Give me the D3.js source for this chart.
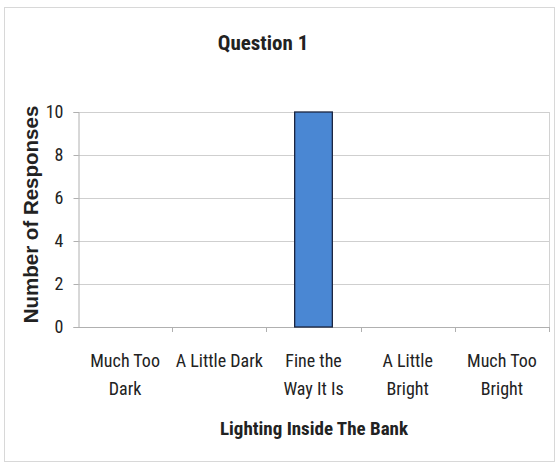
<!DOCTYPE html>
<html>
<head>
<meta charset="utf-8">
<script src="https://cdn.jsdelivr.net/npm/d3@7"></script>
<style>
  html, body { margin: 0; padding: 0; background: #fff; }
  svg { display: block; }
  .narrow { font-family: "Liberation Sans Narrow", "Arial Narrow", "Roboto Condensed", "Liberation Sans", sans-serif; }
</style>
</head>
<body>
<svg id="chart" width="558" height="464"></svg>
<script>
// Survey responses for lighting inside the bank
const categories = [["Much Too", "Dark"], ["A Little Dark"], ["Fine the", "Way It Is"], ["A Little", "Bright"], ["Much Too", "Bright"]];
const responses = [0, 0, 10, 0, 0];
const yTicks = [0, 2, 4, 6, 8, 10];
const chartTitle = "Question 1";
const xTitle = "Lighting Inside The Bank";
const yTitle = "Number of Responses";

const svg = d3.select("#chart");
const W = 558, H = 464;
const plot = { left: 78, right: 549, top: 112, bottom: 327 };

// outer chart frame
svg.append("rect")
  .attr("x", 4.5).attr("y", 7.5).attr("width", W - 8).attr("height", H - 10)
  .attr("fill", "#fff").attr("stroke", "#d8d8d8").attr("stroke-width", 1);

const x = d3.scaleBand()
  .domain(d3.range(categories.length))
  .range([plot.left, plot.right])
  .paddingInner(0.6).paddingOuter(0.3);

const xEdges = d3.scaleLinear().domain([0, categories.length]).range([plot.left, plot.right]);

const y = d3.scaleLinear().domain([0, 10]).range([plot.bottom, plot.top]);

// gridlines
svg.append("g").selectAll("line").data(yTicks.filter(t => t > 0)).join("line")
  .attr("x1", plot.left).attr("x2", plot.right)
  .attr("y1", d => Math.round(y(d)) + 0.5).attr("y2", d => Math.round(y(d)) + 0.5)
  .attr("stroke", "#cfcfcf").attr("stroke-width", 1);

// plot area right border
svg.append("line")
  .attr("x1", plot.right + 0.5).attr("x2", plot.right + 0.5)
  .attr("y1", plot.top).attr("y2", plot.bottom)
  .attr("stroke", "#d2d2d2");

// y axis
const yAxis = d3.axisLeft(y).tickValues(yTicks).tickSize(5).tickPadding(10);
const gy = svg.append("g").attr("transform", `translate(${plot.left + 0.5},0)`).call(yAxis);
gy.select(".domain").attr("stroke", "#b0b0b0");
gy.selectAll(".tick line").attr("stroke", "#b0b0b0");
gy.selectAll(".tick text").attr("class", "narrow").attr("font-size", 18).attr("fill", "#222");

// x axis baseline with category boundary ticks
svg.append("line")
  .attr("x1", plot.left).attr("x2", plot.right)
  .attr("y1", plot.bottom + 0.5).attr("y2", plot.bottom + 0.5)
  .attr("stroke", "#b0b0b0");
svg.append("g").selectAll("line").data(d3.range(1, categories.length + 1)).join("line")
  .attr("x1", d => Math.round(xEdges(d)) + 0.5).attr("x2", d => Math.round(xEdges(d)) + 0.5)
  .attr("y1", plot.bottom).attr("y2", plot.bottom + 5)
  .attr("stroke", "#b0b0b0");

// bars
svg.append("g").selectAll("rect").data(responses).join("rect")
  .attr("x", (d, i) => x(i))
  .attr("width", x.bandwidth())
  .attr("y", d => y(d))
  .attr("height", d => y(0) - y(d))
  .attr("fill", "#4a87d3")
  .attr("stroke", "#1b2540").attr("stroke-width", 1.3);

// category labels
const labels = svg.append("g").attr("class", "narrow").attr("font-size", 18).attr("fill", "#222").attr("text-anchor", "middle");
categories.forEach((lines, i) => {
  const cx = xEdges(i + 0.5);
  const t = labels.append("text").attr("x", cx).attr("y", 367);
  lines.forEach((ln, k) => {
    t.append("tspan").attr("x", cx).attr("dy", k === 0 ? 0 : 28).text(ln);
  });
});

// titles
svg.append("text").attr("class", "narrow")
  .attr("x", 263).attr("y", 50).attr("text-anchor", "middle")
  .attr("font-size", 21).attr("font-weight", "bold").attr("fill", "#222")
  .text(chartTitle);

svg.append("text").attr("class", "narrow")
  .attr("x", 314).attr("y", 435).attr("text-anchor", "middle")
  .attr("font-size", 19).attr("font-weight", "bold").attr("fill", "#222")
  .text(xTitle);

svg.append("text")
  .attr("transform", `translate(38,${(plot.top + plot.bottom) / 2 - 5}) rotate(-90)`)
  .attr("text-anchor", "middle")
  .attr("font-family", "Liberation Sans, Arial, sans-serif")
  .attr("font-size", 20.5).attr("font-weight", "bold").attr("fill", "#222")
  .text(yTitle);
</script>
</body>
</html>
